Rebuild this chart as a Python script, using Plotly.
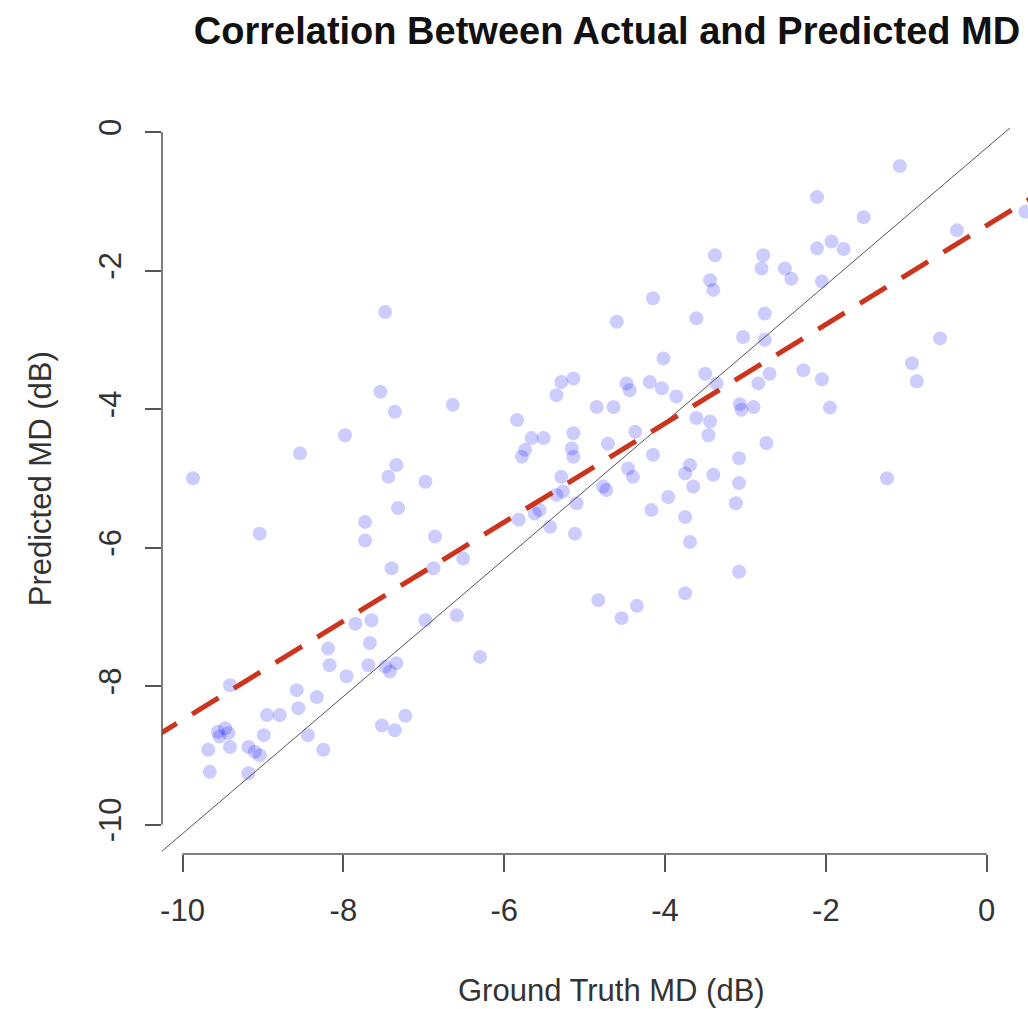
import plotly.graph_objects as go

# Ground truth MD (dB) and predicted MD (dB)
gt_md = [-1.08, -2.11, -1.53, -0.37, 0.48, -2.78, -2.80, -2.51, -2.43, -2.11,
         -1.93, -1.78, -2.05, -2.76, -3.03, -2.76, -0.58, -0.93, -2.28, -2.05,
         -1.95, -0.87, -1.24, -2.74, -2.84, -2.70, -2.90, -3.07, -3.05, -3.08,
         -3.08, -3.12, -3.08, -4.02, -5.29, -5.14, -5.35, -4.48, -4.44, -4.19,
         -4.04, -3.86, -3.50, -3.36, -6.64, -4.85, -4.64, -5.84, -4.37, -3.61,
         -3.44, -3.46, -5.66, -5.51, -5.14, -5.74, -5.78, -5.16, -5.14, -4.71,
         -4.15, -3.69, -3.75, -4.46, -4.40, -3.40, -3.65, -3.96, -5.29, -5.35,
         -5.27, -5.10, -4.77, -4.73, -5.62, -5.56, -5.82, -5.43, -5.12, -4.17,
         -3.75, -3.69, -6.51, -4.83, -4.35, -3.75, -4.54, -6.59, -6.30, -9.87,
         -9.04, -8.54, -7.98, -7.54, -7.36, -7.34, -7.44, -6.98, -7.32, -7.73,
         -7.73, -6.86, -7.40, -6.88, -7.48, -3.38, -3.44, -3.40, -4.15, -4.60,
         -3.61, -9.41, -7.85, -7.65, -7.67, -6.98, -8.19, -8.17, -7.96, -7.69,
         -7.48, -7.34, -7.42, -8.58, -8.33, -8.56, -8.95, -8.79, -9.56, -9.47,
         -9.43, -9.54, -9.68, -9.41, -9.66, -9.18, -9.10, -9.04, -9.18, -8.99,
         -8.44, -8.25, -7.52, -7.36, -7.23]
pred_md = [-0.49, -0.94, -1.23, -1.42, -1.15, -1.78, -1.97, -1.97, -2.12, -1.68,
           -1.58, -1.69, -2.16, -2.62, -2.96, -3.00, -2.98, -3.34, -3.44, -3.57,
           -3.98, -3.60, -5.00, -4.49, -3.63, -3.49, -3.97, -3.93, -4.01, -4.71,
           -5.07, -5.36, -6.35, -3.27, -3.61, -3.56, -3.80, -3.63, -3.73, -3.61,
           -3.70, -3.82, -3.49, -3.63, -3.94, -3.97, -3.97, -4.16, -4.33, -4.13,
           -4.18, -4.38, -4.42, -4.42, -4.35, -4.59, -4.69, -4.57, -4.69, -4.50,
           -4.66, -4.81, -4.93, -4.86, -4.98, -4.95, -5.12, -5.27, -4.98, -5.24,
           -5.19, -5.36, -5.12, -5.17, -5.51, -5.46, -5.60, -5.70, -5.80, -5.46,
           -5.56, -5.92, -6.16, -6.76, -6.84, -6.66, -7.02, -6.98, -7.58, -5.00,
           -5.80, -4.64, -4.38, -3.75, -4.04, -4.81, -4.98, -5.05, -5.43, -5.63,
           -5.90, -5.84, -6.30, -6.30, -2.60, -1.78, -2.14, -2.28, -2.40, -2.74,
           -2.69, -7.99, -7.10, -7.05, -7.38, -7.05, -7.46, -7.70, -7.86, -7.70,
           -7.72, -7.67, -7.79, -8.06, -8.16, -8.32, -8.42, -8.42, -8.66, -8.61,
           -8.68, -8.73, -8.92, -8.88, -9.24, -8.88, -8.95, -9.00, -9.26, -8.71,
           -8.71, -8.92, -8.57, -8.64, -8.43]

# reference (identity) line end points as drawn, and fitted regression line
ref_x = [-10.26, 0.29]
ref_y = [-10.39, 0.06]
fit_slope = 0.714
fit_intercept = -1.35
fit_x = [-10.4, 0.6]
fit_y = [fit_intercept + fit_slope * v for v in fit_x]

tick_vals = [-10, -8, -6, -4, -2, 0]
tick_text = ["-10", "-8", "-6", "-4", "-2", "0"]

FONT = "Liberation Sans, Arial, Helvetica, sans-serif"
AXC = "#555555"

fig = go.Figure()
fig.add_trace(go.Scatter(x=gt_md, y=pred_md, mode="markers",
                         marker=dict(size=14, color="rgba(0,0,255,0.2)", line=dict(width=0)),
                         showlegend=False, hoverinfo="skip"))
fig.add_trace(go.Scatter(x=ref_x, y=ref_y, mode="lines",
                         line=dict(color="#555555", width=1), showlegend=False))
fig.add_trace(go.Scatter(x=fit_x, y=fit_y, mode="lines",
                         line=dict(color="rgb(205,52,30)", width=5, dash="31px,18px"),
                         showlegend=False))

fig.update_layout(
    width=1028, height=1009,
    margin=dict(l=162, r=0, t=128, b=155),
    paper_bgcolor="white", plot_bgcolor="white",
    font=dict(family=FONT, size=31, color="#222222"),
    title=dict(text="<b>Correlation Between Actual and Predicted MD</b>",
               x=607/1028, xanchor="center", y=1 - 31/1009, yanchor="middle",
               font=dict(size=38, color="#111111", family=FONT)),
    xaxis=dict(range=[-10.255, 0.513], showgrid=False, zeroline=False, showline=False,
               tickvals=tick_vals, ticktext=tick_text, ticks="outside", ticklen=17,
               tickwidth=1.5, tickcolor=AXC, tickfont=dict(size=31, color="#333333"),
               ticklabelstandoff=12),
    yaxis=dict(range=[-10.426, 0.058], showgrid=False, zeroline=False, showline=False,
               tickvals=tick_vals, ticktext=tick_text, ticks="outside", ticklen=16,
               tickwidth=1.5, tickcolor=AXC, tickangle=-90,
               tickfont=dict(size=31, color="#333333"), ticklabelstandoff=12),
    shapes=[
        dict(type="line", xref="x", yref="paper", x0=-10, x1=0, y0=0, y1=0,
             line=dict(color=AXC, width=1.5)),
        dict(type="line", xref="paper", yref="y", x0=0, x1=0, y0=-10, y1=0,
             line=dict(color=AXC, width=1.5)),
    ],
    annotations=[
        dict(text="Ground Truth MD (dB)", xref="paper", yref="paper",
             x=(611 - 162) / 866, y=-(990 - 854) / 726, xanchor="center", yanchor="middle",
             showarrow=False, font=dict(size=31, color="#333333")),
        dict(text="Predicted MD (dB)", xref="paper", yref="y", x=-(162 - 40) / 866,
             y=-5, xanchor="center", yanchor="middle", textangle=-90,
             showarrow=False, font=dict(size=31, color="#333333")),
    ],
)

fig.write_html("out.html")
